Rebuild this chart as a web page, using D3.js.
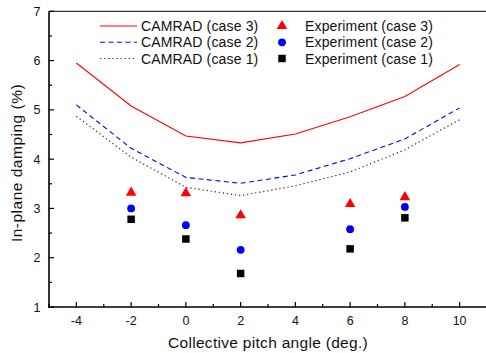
<!DOCTYPE html>
<html><head><meta charset="utf-8">
<script src="https://cdn.jsdelivr.net/npm/d3@7"></script>
<style>body{margin:0;background:#fff}svg{display:block}text{font-family:"Liberation Sans",Arial,sans-serif;fill:#111}</style>
</head><body><svg id="c" width="486" height="353"></svg>
<script>
const pitchModel = [-4, -2, 0, 2, 4, 6, 8, 10];
const camradCase3 = [5.95, 5.08, 4.47, 4.33, 4.51, 4.86, 5.27, 5.92];
const camradCase2 = [5.10, 4.22, 3.63, 3.51, 3.68, 4.01, 4.41, 5.04];
const camradCase1 = [4.87, 4.04, 3.43, 3.26, 3.46, 3.74, 4.19, 4.80];
const pitchExp = [-2, 0, 2, 6, 8];
const expCase3 = [3.32, 3.31, 2.86, 3.09, 3.23];
const expCase2 = [3.00, 2.66, 2.16, 2.58, 3.03];
const expCase1 = [2.78, 2.38, 1.68, 2.18, 2.81];
const xTicks = [-4, -2, 0, 2, 4, 6, 8, 10];
const yTicks = [1, 2, 3, 4, 5, 6, 7];

const svg = d3.select("#c");
const x = d3.scaleLinear().domain([-5, 11]).range([49, 487]);
const y = d3.scaleLinear().domain([1, 7]).range([307, 11.3]);

// frame top
svg.append("line").attr("x1", 49).attr("x2", 487).attr("y1", y(7)).attr("y2", y(7)).attr("stroke", "#333").attr("stroke-width", 1.2);

// x axis
const gx = svg.append("g").attr("transform", "translate(0,307)");
gx.append("line").attr("x1", 48).attr("x2", 487).attr("stroke", "#000").attr("stroke-width", 1.6);
d3.range(-5, 12, 1).forEach(v => {
  const major = v % 2 === 0;
  gx.append("line").attr("x1", x(v)).attr("x2", x(v)).attr("y1", 0).attr("y2", major ? -5 : -3).attr("stroke", "#000").attr("stroke-width", 1.2);
});
gx.selectAll("text.t").data(xTicks).join("text").attr("class", "t")
  .attr("x", d => x(d)).attr("y", 17.5).attr("text-anchor", "middle").attr("font-size", 12.5).text(d => d);

// y axis
const gy = svg.append("g").attr("transform", "translate(49,0)");
gy.append("line").attr("y1", y(7)).attr("y2", 308).attr("stroke", "#000").attr("stroke-width", 1.6);
d3.range(1, 7.01, 0.5).forEach(v => {
  const major = Math.abs(v - Math.round(v)) < 1e-6;
  gy.append("line").attr("y1", y(v)).attr("y2", y(v)).attr("x1", 0).attr("x2", major ? 5 : 3).attr("stroke", "#000").attr("stroke-width", 1.2);
});
gy.selectAll("text.t").data(yTicks).join("text").attr("class", "t")
  .attr("x", -8.5).attr("y", d => y(d) + 4.5).attr("text-anchor", "end").attr("font-size", 12.5).text(d => d);

// labels
svg.append("text").attr("x", 268).attr("y", 348).attr("text-anchor", "middle").attr("font-size", 15.5).attr("letter-spacing", 0.3).text("Collective pitch angle (deg.)");
svg.append("text").attr("transform", "translate(22,163) rotate(-90)").attr("text-anchor", "middle").attr("font-size", 15.5).attr("letter-spacing", 0.5).text("In-plane damping (%)");

// lines
const line = d3.line().x((d, i) => x(pitchModel[i])).y(d => y(d));
const lineStyles = [
  {data: camradCase3, color: "#ff0000", dash: null, w: 1.1},
  {data: camradCase2, color: "#0000ff", dash: "5,3.5", w: 1.1},
  {data: camradCase1, color: "#333", dash: "1.3,2.8", w: 1.2}
];
lineStyles.forEach(s => {
  svg.append("path").attr("d", line(s.data)).attr("fill", "none").attr("stroke", s.color)
    .attr("stroke-width", s.w).attr("stroke-dasharray", s.dash);
});

// markers
const tri = d3.symbol().type(d3.symbolTriangle).size(48);
const circ = d3.symbol().type(d3.symbolCircle).size(48);
const sq = d3.symbol().type(d3.symbolSquare).size(56);
function drawMarkers(vals, sym, color) {
  svg.append("g").selectAll("path").data(vals).join("path")
    .attr("d", sym).attr("fill", color)
    .attr("transform", (d, i) => `translate(${x(pitchExp[i])},${y(d)})`);
}
drawMarkers(expCase3, tri, "#ff0000");
drawMarkers(expCase2, circ, "#0000ff");
drawMarkers(expCase1, sq, "#000");

// legend
const leg = [
  {t: "CAMRAD (case 3)", s: lineStyles[0], cy: 26},
  {t: "CAMRAD (case 2)", s: lineStyles[1], cy: 42.3},
  {t: "CAMRAD (case 1)", s: lineStyles[2], cy: 58.5}
];
leg.forEach(l => {
  svg.append("line").attr("x1", 100).attr("x2", 137).attr("y1", l.cy).attr("y2", l.cy)
    .attr("stroke", l.s.color).attr("stroke-width", l.s.w).attr("stroke-dasharray", l.s.dash);
  svg.append("text").attr("x", 141).attr("y", l.cy + 5).attr("font-size", 14).attr("letter-spacing", 0.15).text(l.t);
});
const leg2 = [
  {t: "Experiment (case 3)", sym: tri, c: "#ff0000", cy: 26},
  {t: "Experiment (case 2)", sym: circ, c: "#0000ff", cy: 42.3},
  {t: "Experiment (case 1)", sym: sq, c: "#000", cy: 58.5}
];
leg2.forEach(l => {
  svg.append("path").attr("d", l.sym).attr("fill", l.c).attr("transform", `translate(282,${l.cy})`);
  svg.append("text").attr("x", 305).attr("y", l.cy + 5).attr("font-size", 14).attr("letter-spacing", 0.15).text(l.t);
});
</script></body></html>
